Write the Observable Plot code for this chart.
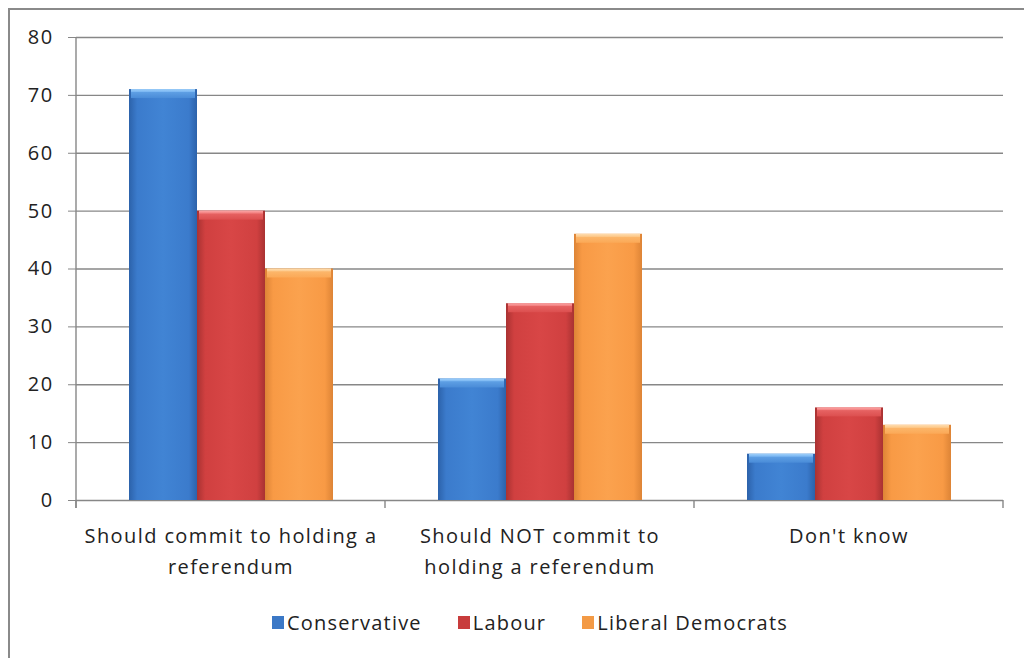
<!DOCTYPE html>
<html>
<head>
<meta charset="utf-8">
<script src="https://cdn.jsdelivr.net/npm/d3@7"></script>
<script src="https://cdn.jsdelivr.net/npm/@observablehq/plot@0.6"></script>
<style>
  html, body { margin: 0; padding: 0; background: #fff; }
  #wrap { position: relative; width: 1024px; height: 658px; overflow: hidden; font-family: "Open Sans", sans-serif; }
  #border { position: absolute; left: 8px; top: 8px; width: 1100px; height: 800px; border-left: 2px solid #8a8a8a; border-top: 2px solid #8a8a8a; }
  #chart { position: absolute; left: 0; top: 0; }
  #chart svg text { letter-spacing: 1.4px; }
  #legend { position: absolute; left: 0; top: 608px; width: 1060px; text-align: center; font-size: 20px; letter-spacing: 1.2px; color: #222; }
  #legend span.item { display: inline-flex; align-items: center; margin: 0 18px; }
  #legend span.sw { display: inline-block; width: 12px; height: 13px; margin-right: 3px; }
</style>
</head>
<body>
<svg width="0" height="0" style="position:absolute">
  <defs>
    <linearGradient id="g-con" x1="0" x2="1" y1="0" y2="0">
      <stop offset="0" stop-color="#2c62aa"/><stop offset="0.12" stop-color="#3b7bcc"/>
      <stop offset="0.5" stop-color="#4184d4"/><stop offset="0.88" stop-color="#3b7bcc"/>
      <stop offset="1" stop-color="#2c62aa"/>
    </linearGradient>
    <linearGradient id="g-lab" x1="0" x2="1" y1="0" y2="0">
      <stop offset="0" stop-color="#a93232"/><stop offset="0.12" stop-color="#d04040"/>
      <stop offset="0.5" stop-color="#d84646"/><stop offset="0.88" stop-color="#d04040"/>
      <stop offset="1" stop-color="#a93232"/>
    </linearGradient>
    <linearGradient id="g-lib" x1="0" x2="1" y1="0" y2="0">
      <stop offset="0" stop-color="#dd8436"/><stop offset="0.12" stop-color="#f89a45"/>
      <stop offset="0.5" stop-color="#fba24e"/><stop offset="0.88" stop-color="#f89a45"/>
      <stop offset="1" stop-color="#dd8436"/>
    </linearGradient>
    <linearGradient id="c-con" x1="0" x2="0" y1="0" y2="1">
      <stop offset="0" stop-color="#9fd0fa"/><stop offset="0.3" stop-color="#7ab6f2"/>
      <stop offset="0.35" stop-color="#5e9fe4"/><stop offset="1" stop-color="#4a8cd8"/>
    </linearGradient>
    <linearGradient id="c-lab" x1="0" x2="0" y1="0" y2="1">
      <stop offset="0" stop-color="#fba8a8"/><stop offset="0.3" stop-color="#f27c7c"/>
      <stop offset="0.35" stop-color="#e66262"/><stop offset="1" stop-color="#dc4f4f"/>
    </linearGradient>
    <linearGradient id="c-lib" x1="0" x2="0" y1="0" y2="1">
      <stop offset="0" stop-color="#feddb0"/><stop offset="0.3" stop-color="#fdc98a"/>
      <stop offset="0.35" stop-color="#fcb66a"/><stop offset="1" stop-color="#fba957"/>
    </linearGradient>
  </defs>
</svg>
<div id="wrap">
  <div id="border"></div>
  <div id="chart"></div>
  <div id="legend"></div>
</div>
<script>
const categories = ["Should commit to holding a referendum", "Should NOT commit to holding a referendum", "Don't know"];
const categoryLabels = ["Should commit to holding a\nreferendum", "Should NOT commit to\nholding a referendum", "Don't know"];
const parties = ["Conservative", "Labour", "Liberal Democrats"];
const conservative = [71, 21, 8];
const labour = [50, 34, 16];
const libDems = [40, 46, 13];
const yTicks = [0, 10, 20, 30, 40, 50, 60, 70, 80];
const partyFills = ["url(#g-con)", "url(#g-lab)", "url(#g-lib)"];
const partyCaps = ["url(#c-con)", "url(#c-lab)", "url(#c-lib)"];
const partySwatches = ["#3b78c6", "#c83c3c", "#f39a45"];

const seriesValues = [conservative, labour, libDems];
const data = [];
categories.forEach((c, i) => parties.forEach((p, j) => data.push({category: c, party: p, value: seriesValues[j][i]})));

const labelOf = new Map(categories.map((c, i) => [c, categoryLabels[i]]));
const capOf = new Map(parties.map((p, i) => [p, partyCaps[i]]));

const chart = Plot.plot({
  width: 1024,
  height: 600,
  marginLeft: 76,
  marginRight: 21,
  marginTop: 37,
  marginBottom: 100,
  style: {fontFamily: "'Open Sans', sans-serif", fontSize: "20px", color: "#222", background: "transparent"},
  fx: {domain: categories, padding: 0, label: null},
  x: {domain: parties, paddingInner: 0, paddingOuter: 0.74, axis: null},
  y: {domain: [0, 80], label: null},
  color: {domain: parties, range: partyFills},
  marks: [
    Plot.gridY(yTicks, {stroke: "#878787", strokeOpacity: 1, strokeWidth: 1.4}),
    Plot.axisY(yTicks, {tickSize: 8, tickPadding: 15, stroke: "#878787", fontSize: 20, label: null}),
    Plot.axisFx({anchor: "bottom", tickSize: 0, tickPadding: 20, fontSize: 20, lineHeight: 1.55, tickFormat: d => labelOf.get(d), label: null}),
    Plot.barY(data, {fx: "category", x: "party", y: "value", fill: "party", stroke: null,
      style: "filter: drop-shadow(1px 1px 1px rgba(0,0,0,0.35))"}),
    Plot.barY(data, {fx: "category", x: "party", y1: "value", y2: "value", insetBottom: -9, insetLeft: 2, insetRight: 2,
      fill: d => capOf.get(d.party), stroke: null})
  ]
});
document.getElementById("chart").appendChild(chart);

// Axis line and category-boundary ticks, placed from the chart's own scales
const fxS = chart.scale("fx");
const yS = chart.scale("y");
const fx = d3.scaleBand().domain(fxS.domain).range(fxS.range).paddingInner(0).paddingOuter(0);
const y = d3.scaleLinear().domain(yS.domain).range(yS.range);
const svg = d3.select(chart);
const g = svg.append("g").attr("stroke", "#878787").attr("stroke-width", 1.4);
g.append("line").attr("x1", fxS.range[0]).attr("x2", fxS.range[0]).attr("y1", y(80)).attr("y2", y(0) + 8);
const bounds = fxS.domain.map(d => fx(d)).concat([fx(fxS.domain[fxS.domain.length - 1]) + fx.bandwidth()]);
bounds.forEach(b => g.append("line").attr("x1", b).attr("x2", b).attr("y1", y(0)).attr("y2", y(0) + 8));

// Legend
const legend = d3.select("#legend");
parties.forEach((p, i) => {
  const it = legend.append("span").attr("class", "item");
  it.append("span").attr("class", "sw").style("background", partySwatches[i]);
  it.append("span").text(p);
});
</script>
</body>
</html>
